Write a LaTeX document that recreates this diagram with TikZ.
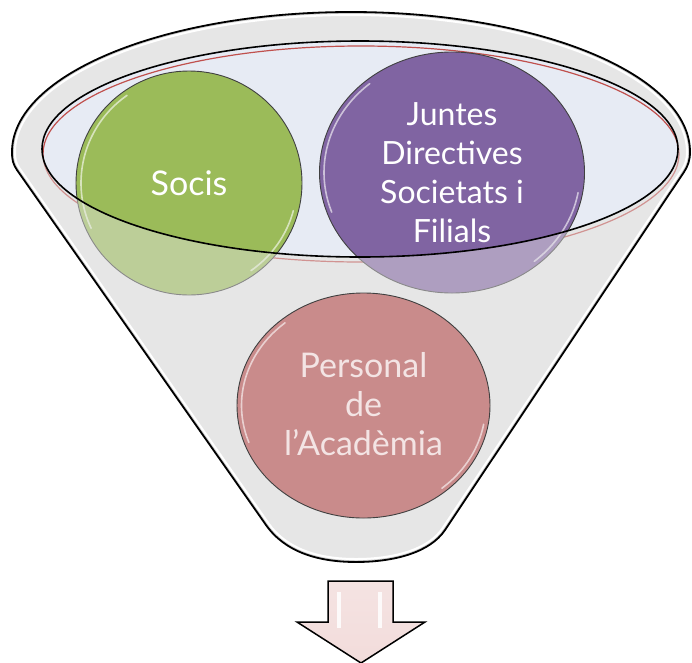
\documentclass[tikz,border=0pt]{standalone}
\usepackage{fontspec}
\setmainfont{Lato}
\usetikzlibrary{shapes.geometric}
\definecolor{funnelgray}{HTML}{E6E6E6}
\definecolor{innerblue}{HTML}{E7EBF4}
\definecolor{rimred}{HTML}{C0504D}
\definecolor{socisgreen}{HTML}{9BBB59}
\definecolor{juntespurple}{HTML}{8064A2}
\definecolor{personalpink}{HTML}{C98B8B}
\definecolor{personaltext}{HTML}{F3E4E4}
\definecolor{arrowpink}{HTML}{F2DCDB}
\tikzset{
  bubble/.style={ellipse, draw=black!75, line width=0.9pt, inner sep=0pt},
  gloss/.style={white, line width=1.6pt, opacity=0.6, line cap=round},
  bubbletext/.style={align=center, inner sep=0pt},
}
\begin{document}
\begin{tikzpicture}[x=1pt,y=-1pt]
\useasboundingbox (0,0) rectangle (692,662);
% funnel body
\fill[funnelgray] (351,12) .. controls (163.8,12) and (12,74.7) .. (12,152)
  .. controls (12,160) and (13,164) .. (17,170) -- (266,525)
  .. controls (285,552) and (318,562) .. (356,562)
  .. controls (394,562) and (430,552.5) .. (445,530) -- (684,172)
  .. controls (688,166) and (690,160) .. (690,152)
  .. controls (690,74.7) and (538.2,12) .. (351,12) -- cycle;
% inner ellipse fill and red rim
\fill[innerblue] (360,149) ellipse [x radius=318, y radius=108];
\draw[rimred, line width=1.2pt] (361,154) ellipse [x radius=318, y radius=108];
% back bubbles
\node[bubble, fill=socisgreen, minimum width=226pt, minimum height=224pt] (socis) at (189,183) {};
\node[bubble, fill=juntespurple, minimum width=265pt, minimum height=241pt] (juntes) at (452,172.5) {};
\draw[gloss] plot[smooth, domain=125:205, samples=25] ({189+108*cos(\x)},{183-107*sin(\x)});
\draw[gloss] plot[smooth, domain=-15:-55, samples=25] ({189+108*cos(\x)},{183-107*sin(\x)});
\draw[gloss] plot[smooth, domain=130:200, samples=25] ({452+128*cos(\x)},{172.5-116*sin(\x)});
\draw[gloss] plot[smooth, domain=-10:-50, samples=25] ({452+128*cos(\x)},{172.5-116*sin(\x)});
% front overlay of the funnel
\fill[funnelgray, opacity=0.45, even odd rule] (351,12) .. controls (163.8,12) and (12,74.7) .. (12,152)
  .. controls (12,160) and (13,164) .. (17,170) -- (266,525)
  .. controls (285,552) and (318,562) .. (356,562)
  .. controls (394,562) and (430,552.5) .. (445,530) -- (684,172)
  .. controls (688,166) and (690,160) .. (690,152)
  .. controls (690,74.7) and (538.2,12) .. (351,12) -- cycle
  (360,149) ellipse [x radius=318, y radius=108];
% funnel border with inner highlight
\begin{scope}
\clip (351,12) .. controls (163.8,12) and (12,74.7) .. (12,152)
  .. controls (12,160) and (13,164) .. (17,170) -- (266,525)
  .. controls (285,552) and (318,562) .. (356,562)
  .. controls (394,562) and (430,552.5) .. (445,530) -- (684,172)
  .. controls (688,166) and (690,160) .. (690,152)
  .. controls (690,74.7) and (538.2,12) .. (351,12) -- cycle;
\draw[white, line width=8pt] (351,12) .. controls (163.8,12) and (12,74.7) .. (12,152)
  .. controls (12,160) and (13,164) .. (17,170) -- (266,525)
  .. controls (285,552) and (318,562) .. (356,562)
  .. controls (394,562) and (430,552.5) .. (445,530) -- (684,172)
  .. controls (688,166) and (690,160) .. (690,152)
  .. controls (690,74.7) and (538.2,12) .. (351,12) -- cycle;
\draw[black!20, line width=3.5pt] (351,12) .. controls (163.8,12) and (12,74.7) .. (12,152)
  .. controls (12,160) and (13,164) .. (17,170) -- (266,525)
  .. controls (285,552) and (318,562) .. (356,562)
  .. controls (394,562) and (430,552.5) .. (445,530) -- (684,172)
  .. controls (688,166) and (690,160) .. (690,152)
  .. controls (690,74.7) and (538.2,12) .. (351,12) -- cycle;
\end{scope}
\draw[black, line width=1.8pt, line join=round] (351,12) .. controls (163.8,12) and (12,74.7) .. (12,152)
  .. controls (12,160) and (13,164) .. (17,170) -- (266,525)
  .. controls (285,552) and (318,562) .. (356,562)
  .. controls (394,562) and (430,552.5) .. (445,530) -- (684,172)
  .. controls (688,166) and (690,160) .. (690,152)
  .. controls (690,74.7) and (538.2,12) .. (351,12) -- cycle;
% inner ellipse outline
\draw[black, line width=1.6pt] (360,149) ellipse [x radius=318, y radius=108];
% front bubble
\node[bubble, fill=personalpink, minimum width=253pt, minimum height=225pt] (personal) at (363.5,405.5) {};
\draw[gloss] plot[smooth, domain=130:200, samples=25] ({363.5+122*cos(\x)},{405.5-108*sin(\x)});
\draw[gloss] plot[smooth, domain=-10:-50, samples=25] ({363.5+122*cos(\x)},{405.5-108*sin(\x)});
% texts
\node[bubbletext, white, font=\fontsize{34}{40}\selectfont] (socistext) at (socis) {Socis};
\node[bubbletext, white, font=\fontsize{32}{39}\selectfont] (juntestext) at (juntes) {Juntes\\Directives\\Societats i\\Filials};
\node[bubbletext, personaltext, font=\fontsize{34}{39}\selectfont] (personaltxt) at (363.5,404) {Personal\\de\\l’Acadèmia};
% arrow
\draw[black, line width=1.5pt, line join=miter, top color=arrowpink!80!white, bottom color=arrowpink]
  (328,581) -- (393,581) -- (393,622) -- (425,622) -- (361,663) -- (297,622) -- (328,622) -- cycle;
\draw[white, line width=3.5pt, opacity=0.85] (339,592) -- (339,628);
\draw[white, line width=3.5pt, opacity=0.85] (380,592) -- (380,628);
\end{tikzpicture}
\end{document}
